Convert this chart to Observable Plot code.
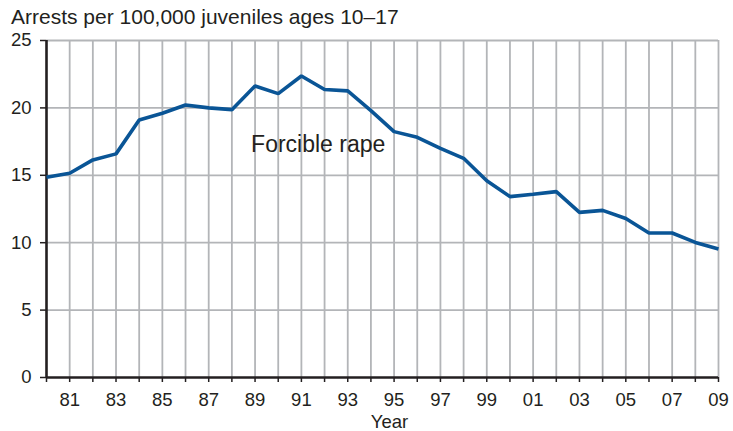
<!DOCTYPE html>
<html>
<head>
<meta charset="utf-8">
<script src="https://cdn.jsdelivr.net/npm/d3@7"></script>
<script src="https://cdn.jsdelivr.net/npm/@observablehq/plot@0.6"></script>
<style>
  html, body { margin: 0; padding: 0; background: #fff; }
  #title { height: 30px; line-height: 34px; padding-left: 11px; font-family: "Liberation Sans", Arial, sans-serif; font-size: 21px; color: #231f20; white-space: nowrap; }
  #chart svg { display: block; overflow: visible; }
</style>
</head>
<body>
<div id="title">Arrests per 100,000 juveniles ages 10–17</div>
<div id="chart"></div>
<script>
const years = [1980, 1981, 1982, 1983, 1984, 1985, 1986, 1987, 1988, 1989,
               1990, 1991, 1992, 1993, 1994, 1995, 1996, 1997, 1998, 1999,
               2000, 2001, 2002, 2003, 2004, 2005, 2006, 2007, 2008, 2009];
const rates = [14.85, 15.15, 16.14, 16.59, 19.11, 19.6, 20.22, 20.0, 19.87, 21.63,
               21.06, 22.37, 21.36, 21.26, 19.8, 18.24, 17.82, 17.0, 16.26, 14.6,
               13.42, 13.59, 13.79, 12.25, 12.4, 11.8, 10.72, 10.72, 10.02, 9.53];
const yTicks = [0, 5, 10, 15, 20, 25];
const seriesLabel = ["Forcible rape"];
const labelYear = [1988.83];
const labelRate = [17.25];
const xTitle = "Year";

const data = years.map((y, i) => ({year: y, rate: rates[i]}));
const ink = "#231f20";
const grid = "#b3b5b8";

const chart = Plot.plot({
  width: 733,
  height: 401,
  marginTop: 10,
  marginBottom: 54,
  marginLeft: 46,
  marginRight: 15,
  style: {fontFamily: "'Liberation Sans', Arial, sans-serif", fontSize: "18.5px", color: ink, background: "#fff"},
  x: {domain: [years[0], years[years.length - 1]], type: "linear"},
  y: {domain: [yTicks[0], yTicks[yTicks.length - 1]]},
  marks: [
    Plot.ruleX(years.slice(1), {y1: yTicks[0], y2: yTicks[yTicks.length - 1], stroke: grid, strokeWidth: 1.8}),
    Plot.ruleY(yTicks.slice(1), {stroke: grid, strokeWidth: 1.8}),
    Plot.axisX({ticks: years, tickSize: 5, tickPadding: 10, stroke: ink, strokeWidth: 1.5,
      tickFormat: d => d % 2 ? String(d % 100).padStart(2, "0") : "", label: null}),
    Plot.axisY({ticks: yTicks, tickSize: 6, tickPadding: 9, stroke: ink, strokeWidth: 1.5, label: null}),
    Plot.ruleX([years[0]], {y1: yTicks[0], y2: yTicks[yTicks.length - 1], stroke: ink, strokeWidth: 2.6}),
    Plot.ruleY([yTicks[0]], {stroke: ink, strokeWidth: 2.6}),
    Plot.line(data, {x: "year", y: "rate", stroke: "#0a5596", strokeWidth: 3.6, strokeLinejoin: "miter", strokeLinecap: "butt"}),
    Plot.text(seriesLabel, {x: () => labelYear[0], y: () => labelRate[0], text: d => d, textAnchor: "start", fontSize: 23, fill: ink}),
    Plot.text([xTitle], {frameAnchor: "bottom", dx: 7, dy: 45, text: d => d, fontSize: 18.5, fill: ink, lineAnchor: "middle"})
  ]
});
document.getElementById("chart").appendChild(chart);
</script>
</body>
</html>
